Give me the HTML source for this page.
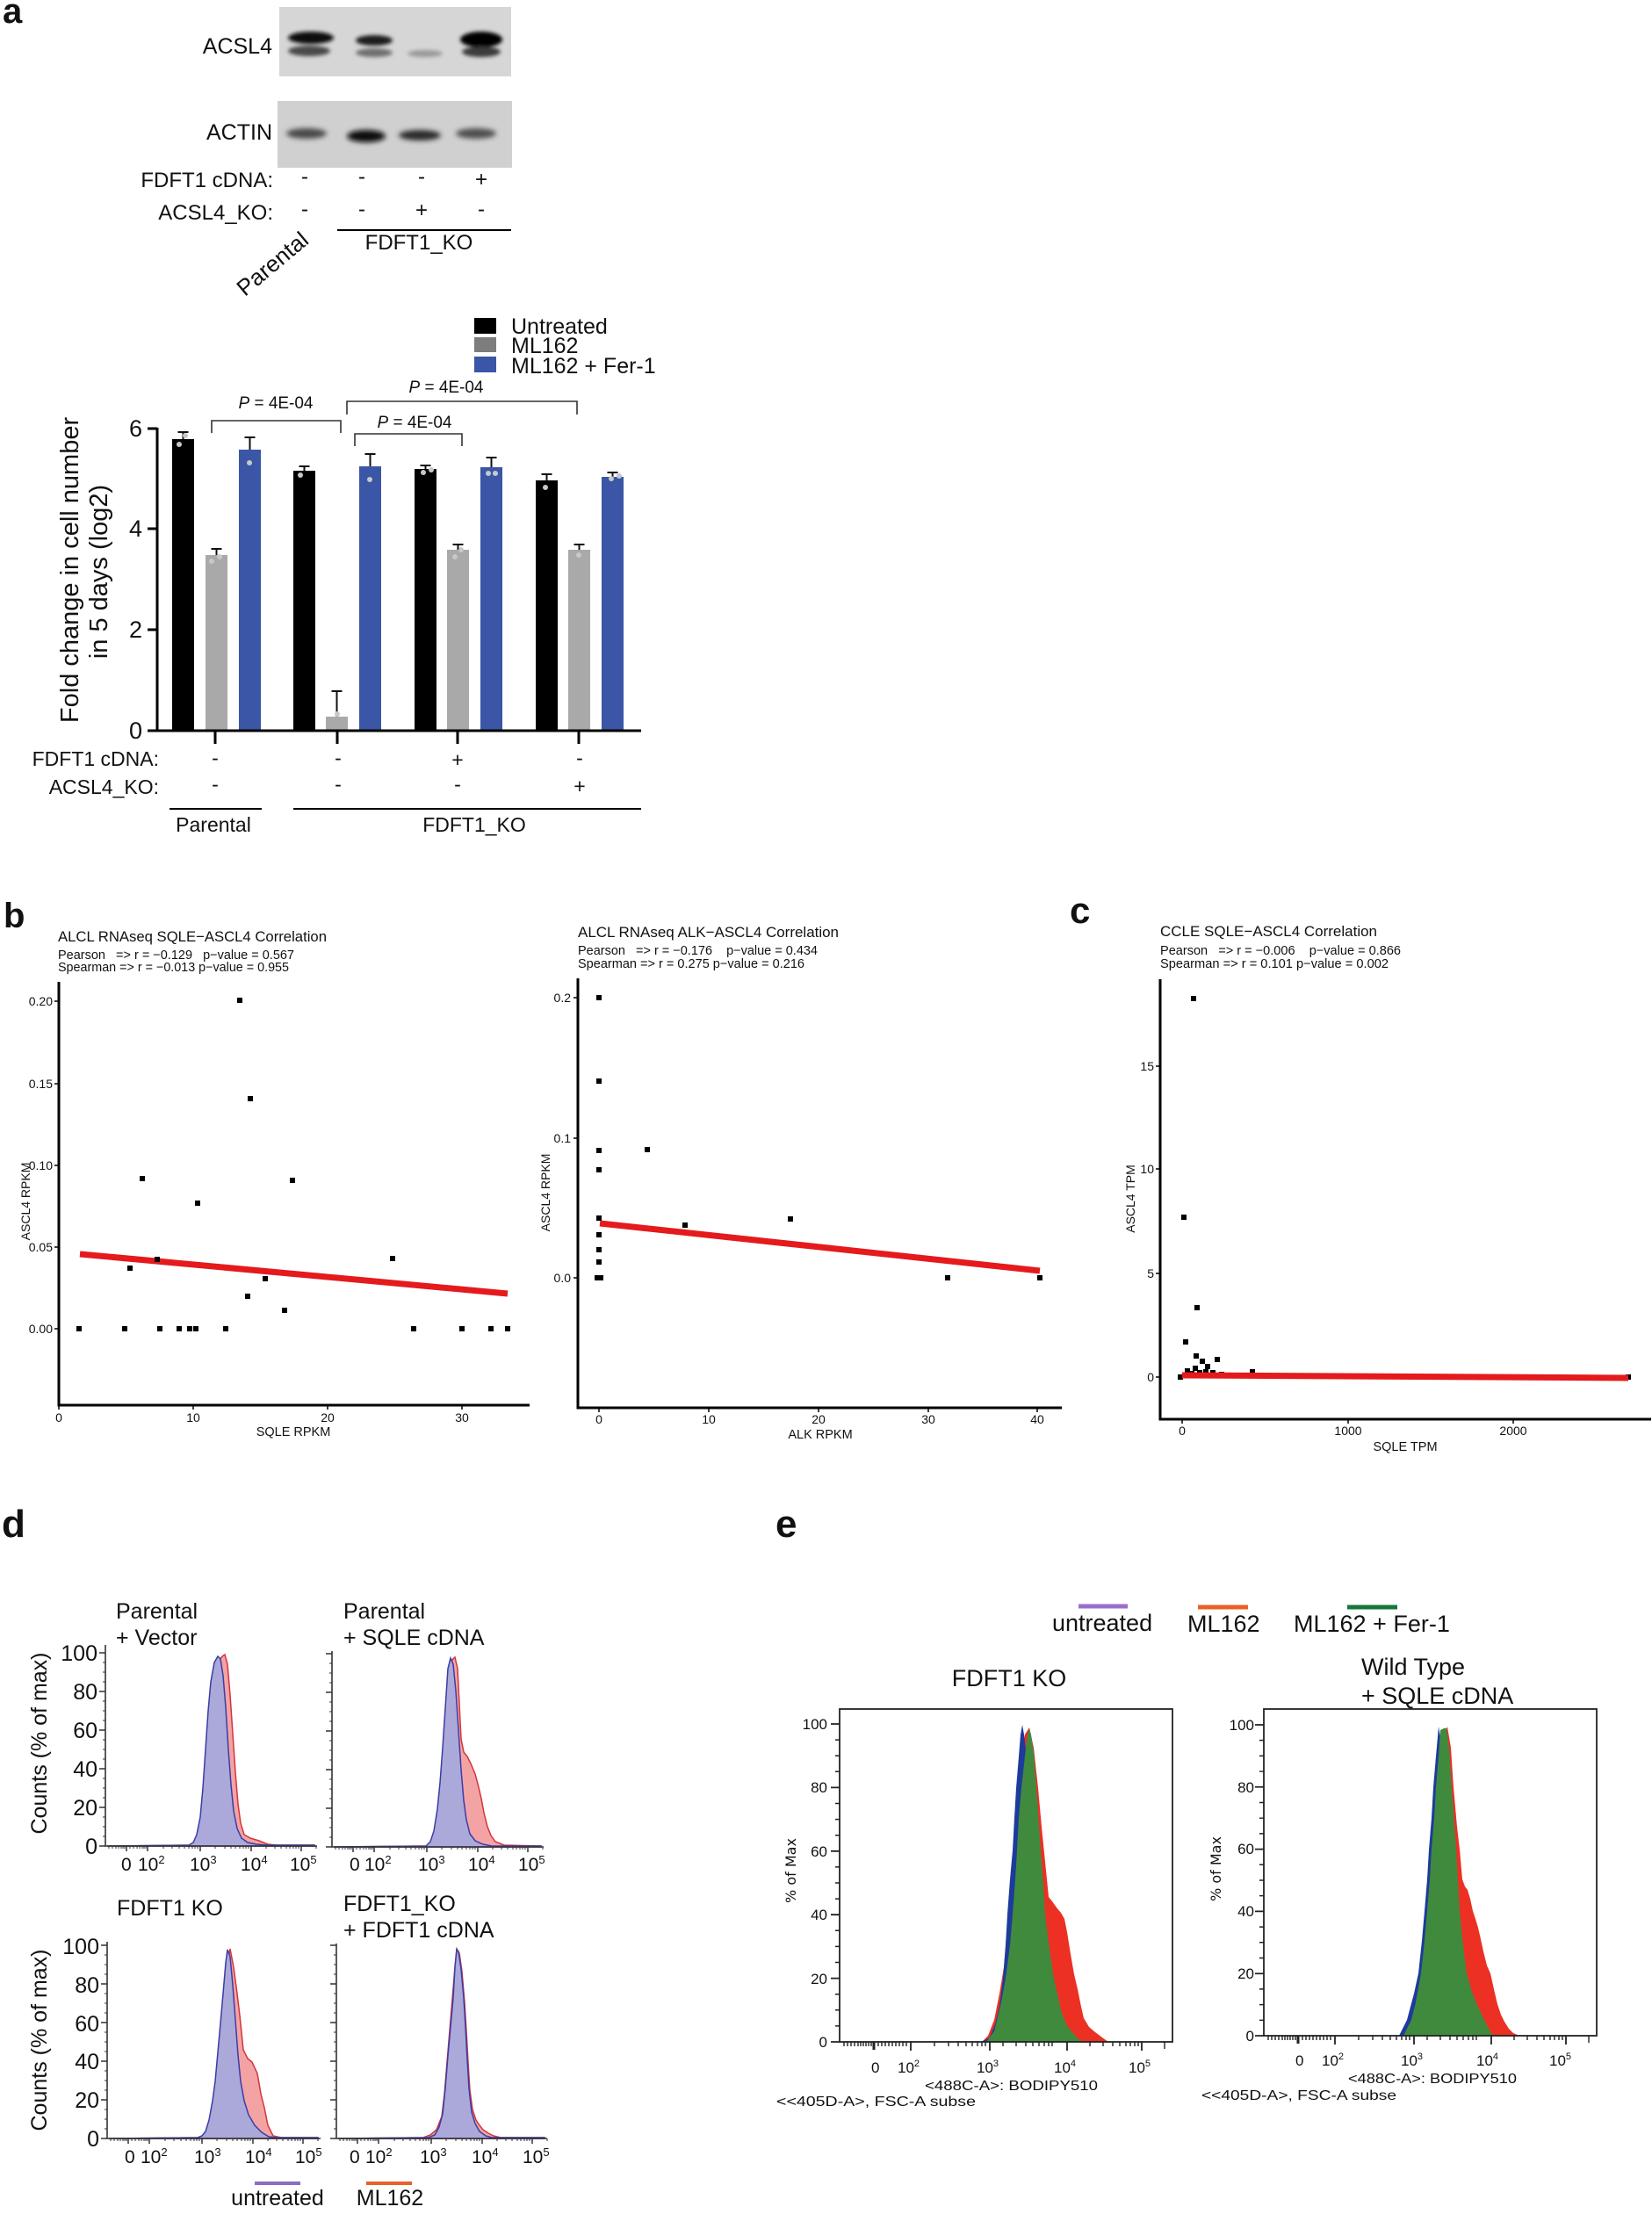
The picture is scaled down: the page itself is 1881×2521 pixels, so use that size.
<!DOCTYPE html>
<html><head><meta charset="utf-8">
<style>
html,body{margin:0;padding:0;background:#fff;}
svg{display:block;}
text{font-family:"Liberation Sans",Arial,sans-serif;fill:#111;}
.fj{font-family:"DejaVu Sans","Liberation Sans",sans-serif;}
.pre{white-space:pre;}
</style></head><body>
<svg width="1881" height="2521" viewBox="0 0 1881 2521" xmlns="http://www.w3.org/2000/svg">
<defs>
<filter id="bl" x="-50%" y="-80%" width="200%" height="260%"><feGaussianBlur stdDeviation="3"/></filter>
<filter id="bl2" x="-50%" y="-80%" width="200%" height="260%"><feGaussianBlur stdDeviation="2"/></filter>
<g id="dyt"><path d="M-7 0H0M-7 -44H0M-7 -88H0M-7 -132H0M-7 -176H0M-7 -220H0" stroke="#333" stroke-width="1.5"/><path d="M-3 -11H0M-3 -22H0M-3 -33H0M-3 -55H0M-3 -66H0M-3 -77H0M-3 -99H0M-3 -110H0M-3 -121H0M-3 -143H0M-3 -154H0M-3 -165H0M-3 -187H0M-3 -198H0M-3 -209H0" stroke="#333" stroke-width="1"/></g>
<g id="dxt"><path d="M24 0v6M48 0v6M108 0v6M166 0v6M223 0v6" stroke="#333" stroke-width="1.5"/><path d="M4 0v3M8 0v3M12 0v3M15 0v3M18 0v3M20 0v3M22 0v3M28 0v3M32 0v3M36 0v3M39 0v3M42 0v3M44 0v3M46 0v3M66 0v3M76 0v3M84 0v3M90 0v3M95 0v3M99 0v3M102 0v3M105 0v3M125 0v3M136 0v3M143 0v3M148 0v3M153 0v3M157 0v3M160 0v3M163 0v3M183 0v3M193 0v3M200 0v3M206 0v3M210 0v3M214 0v3M217 0v3M220 0v3M240 0v3" stroke="#333" stroke-width="1"/></g>
<g id="eyt"><path d="M-10 0H0M-10 -72.4H0M-10 -144.8H0M-10 -217.2H0M-10 -289.6H0M-10 -362H0" stroke="#222" stroke-width="1.8"/><path d="M-5 -18.1H0M-5 -36.2H0M-5 -54.3H0M-5 -90.5H0M-5 -108.6H0M-5 -126.7H0M-5 -162.9H0M-5 -181H0M-5 -199.1H0M-5 -235.3H0M-5 -253.4H0M-5 -271.5H0M-5 -307.7H0M-5 -325.8H0M-5 -343.9H0" stroke="#222" stroke-width="1.5"/></g>
<g id="ext"><path d="M81 0v10M171 0v10M259 0v10M344 0v10" stroke="#222" stroke-width="1.8"/><path d="M39 0v9" stroke="#222" stroke-width="3"/><path d="M5 0v5M9 0v5M13 0v5M17 0v5M21 0v5M24 0v5M27 0v5M30 0v5M33 0v5M36 0v5M44 0v5M48 0v5M52 0v5M56 0v5M60 0v5M64 0v5M68 0v5M72 0v5M76 0v5M108 0v5M124 0v5M135 0v5M144 0v5M151 0v5M157 0v5M162 0v5M166 0v5M186 0v5M201 0v5M212 0v5M220 0v5M227 0v5M233 0v5M238 0v5M242 0v5M285 0v5M300 0v5M311 0v5M319 0v5M326 0v5M331 0v5M336 0v5M340 0v5M370 0v8" stroke="#222" stroke-width="1.4"/></g>
</defs>
<rect width="1881" height="2521" fill="#fff"/>

<!-- ===== Panel a : blots ===== -->
<text x="3" y="26" font-size="40" font-weight="bold">a</text>
<rect x="318" y="8" width="264" height="79" fill="#d6d6d6"/>
<g filter="url(#bl2)">
<ellipse cx="354" cy="43" rx="26" ry="7" fill="#111"/>
<ellipse cx="352" cy="58" rx="24" ry="6" fill="#4a4a4a"/>
<ellipse cx="426" cy="46" rx="21" ry="6" fill="#1a1a1a"/>
<ellipse cx="426" cy="60" rx="21" ry="5" fill="#707070"/>
<ellipse cx="484" cy="61" rx="20" ry="4" fill="#9a9a9a"/>
<ellipse cx="548" cy="45" rx="24" ry="9" fill="#000"/>
<ellipse cx="548" cy="59" rx="22" ry="6" fill="#3a3a3a"/>
</g>
<rect x="316" y="115" width="267" height="76" fill="#d0d0d0"/>
<g filter="url(#bl)">
<ellipse cx="349" cy="152" rx="23" ry="6" fill="#4a4a4a"/>
<ellipse cx="417" cy="155" rx="22" ry="7" fill="#0a0a0a"/>
<ellipse cx="478" cy="154" rx="24" ry="6" fill="#2a2a2a"/>
<ellipse cx="542" cy="152" rx="23" ry="6" fill="#505050"/>
</g>
<text x="310" y="61" text-anchor="end" font-size="25">ACSL4</text>
<text x="310" y="159" text-anchor="end" font-size="25">ACTIN</text>
<text x="311" y="213" text-anchor="end" font-size="24">FDFT1 cDNA:</text>
<text x="311" y="250" text-anchor="end" font-size="24">ACSL4_KO:</text>
<g font-size="24" text-anchor="middle">
<text x="347" y="209">-</text><text x="412" y="209">-</text><text x="480" y="209">-</text><text x="548" y="212">+</text>
<text x="347" y="246">-</text><text x="412" y="246">-</text><text x="480" y="247">+</text><text x="548" y="246">-</text>
</g>
<line x1="384" y1="262" x2="582" y2="262" stroke="#000" stroke-width="2"/>
<text x="477" y="284" text-anchor="middle" font-size="24">FDFT1_KO</text>
<text transform="translate(353,276) rotate(-40)" text-anchor="end" font-size="26">Parental</text>

<!-- ===== Panel a : bar chart ===== -->
<rect x="540" y="362" width="25" height="18" fill="#000"/>
<rect x="540" y="384" width="25" height="17" fill="#7d7d7d"/>
<rect x="540" y="406" width="25" height="18" fill="#3b56a6"/>
<text x="582" y="380" font-size="25">Untreated</text>
<text x="582" y="402" font-size="25">ML162</text>
<text x="582" y="425" font-size="25">ML162 + Fer-1</text>

<g stroke="#333" stroke-width="1.6" fill="none">
<path d="M241 493V479H388V493"/>
<path d="M395 472V457H657V472"/>
<path d="M404 508V494H526V508"/>
</g>
<g font-size="19" text-anchor="middle">
<text x="314" y="465" textLength="85" lengthAdjust="spacingAndGlyphs"><tspan font-style="italic">P</tspan> = 4E-04</text>
<text x="508" y="447" textLength="85" lengthAdjust="spacingAndGlyphs"><tspan font-style="italic">P</tspan> = 4E-04</text>
<text x="472" y="487" textLength="85" lengthAdjust="spacingAndGlyphs"><tspan font-style="italic">P</tspan> = 4E-04</text>
</g>

<!-- bars -->
<g>
<rect x="196" y="500" width="25" height="332" fill="#000"/>
<rect x="234" y="632" width="25" height="200" fill="#a9a9a9"/>
<rect x="272" y="512" width="25" height="320" fill="#3b56a6"/>
<rect x="334" y="536" width="25" height="296" fill="#000"/>
<rect x="371" y="816" width="25" height="16" fill="#a9a9a9"/>
<rect x="409" y="531" width="25" height="301" fill="#3b56a6"/>
<rect x="472" y="534" width="25" height="298" fill="#000"/>
<rect x="509" y="626" width="25" height="206" fill="#a9a9a9"/>
<rect x="547" y="532" width="25" height="300" fill="#3b56a6"/>
<rect x="610" y="547" width="25" height="285" fill="#000"/>
<rect x="647" y="626" width="25" height="206" fill="#a9a9a9"/>
<rect x="685" y="543" width="25" height="289" fill="#3b56a6"/>
</g>
<g stroke="#111" stroke-width="2" fill="none">
<path d="M208.5 500V492M202.5 492H214.5"/>
<path d="M246.5 632V625M240.5 625H252.5"/>
<path d="M284.5 512V498M278.5 498H290.5"/>
<path d="M346.5 536V531M340.5 531H352.5"/>
<path d="M383.5 816V787M377.5 787H389.5"/>
<path d="M421.5 531V517M415.5 517H427.5"/>
<path d="M484.5 534V530M478.5 530H490.5"/>
<path d="M521.5 626V620M515.5 620H527.5"/>
<path d="M559.5 532V521M553.5 521H565.5"/>
<path d="M622.5 547V540M616.5 540H628.5"/>
<path d="M659.5 626V620M653.5 620H665.5"/>
<path d="M697.5 543V538M691.5 538H703.5"/>
</g>
<g fill="#c8c8c8">
<circle cx="204" cy="506" r="3"/><circle cx="211" cy="496" r="3"/>
<circle cx="241" cy="639" r="3"/><circle cx="250" cy="634" r="3"/>
<circle cx="284" cy="527" r="3"/>
<circle cx="342" cy="541" r="3"/>
<circle cx="384" cy="813" r="3"/>
<circle cx="421" cy="546" r="3"/>
<circle cx="482" cy="538" r="3"/><circle cx="491" cy="535" r="3"/>
<circle cx="518" cy="634" r="3"/><circle cx="525" cy="626" r="3"/>
<circle cx="556" cy="539" r="3"/><circle cx="564" cy="539" r="3"/>
<circle cx="621" cy="555" r="3"/>
<circle cx="659" cy="632" r="3"/>
<circle cx="696" cy="545" r="3"/><circle cx="705" cy="542" r="3"/>
</g>
<path d="M179 487V832H730" stroke="#000" stroke-width="3" fill="none"/>
<path d="M168 488H179M168 602H179M168 717H179M168 832H179" stroke="#000" stroke-width="3"/>
<path d="M245 832V847M384 832V847M521 832V847M659 832V847" stroke="#000" stroke-width="3"/>
<g font-size="27" text-anchor="end">
<text x="162" y="497">6</text><text x="162" y="611">4</text><text x="162" y="726">2</text><text x="162" y="841">0</text>
</g>
<text transform="translate(89,649) rotate(-90)" text-anchor="middle" font-size="29">Fold change in cell number</text>
<text transform="translate(122,651) rotate(-90)" text-anchor="middle" font-size="29">in 5 days (log2)</text>
<text x="181" y="872" text-anchor="end" font-size="23">FDFT1 cDNA:</text>
<text x="181" y="904" text-anchor="end" font-size="23">ACSL4_KO:</text>
<g font-size="23" text-anchor="middle">
<text x="245" y="871">-</text><text x="385" y="871">-</text><text x="521" y="873">+</text><text x="660" y="871">-</text>
<text x="245" y="901">-</text><text x="385" y="901">-</text><text x="521" y="901">-</text><text x="660" y="903">+</text>
</g>
<path d="M193 921H298M334 921H730" stroke="#000" stroke-width="2"/>
<text x="243" y="947" text-anchor="middle" font-size="23">Parental</text>
<text x="540" y="947" text-anchor="middle" font-size="23">FDFT1_KO</text>

<!-- ===== Panel b left ===== -->
<text x="4" y="1056" font-size="40" font-weight="bold">b</text>
<text x="66" y="1072" font-size="17" textLength="306" lengthAdjust="spacingAndGlyphs">ALCL RNAseq SQLE−ASCL4 Correlation</text>
<text x="66" y="1092" font-size="14.5" class="pre" xml:space="preserve" textLength="269" lengthAdjust="spacingAndGlyphs">Pearson   =&gt; r = −0.129   p−value = 0.567</text>
<text x="66" y="1106" font-size="14.5" class="pre" xml:space="preserve" textLength="263" lengthAdjust="spacingAndGlyphs">Spearman =&gt; r = −0.013 p−value = 0.955</text>
<line x1="91" y1="1428" x2="578" y2="1473" stroke="#e41a1c" stroke-width="7"/>
<g fill="#000">
<rect x="87" y="1510" width="6" height="6"/><rect x="139" y="1510" width="6" height="6"/><rect x="179" y="1510" width="6" height="6"/><rect x="201" y="1510" width="6" height="6"/><rect x="213" y="1510" width="6" height="6"/><rect x="220" y="1510" width="6" height="6"/><rect x="254" y="1510" width="6" height="6"/><rect x="468" y="1510" width="6" height="6"/><rect x="523" y="1510" width="6" height="6"/><rect x="556" y="1510" width="6" height="6"/><rect x="575" y="1510" width="6" height="6"/>
<rect x="270" y="1136" width="6" height="6"/><rect x="282" y="1248" width="6" height="6"/><rect x="159" y="1339" width="6" height="6"/><rect x="330" y="1341" width="6" height="6"/><rect x="222" y="1367" width="6" height="6"/><rect x="176" y="1431" width="6" height="6"/><rect x="145" y="1441" width="6" height="6"/><rect x="444" y="1430" width="6" height="6"/><rect x="299" y="1453" width="6" height="6"/><rect x="279" y="1473" width="6" height="6"/><rect x="321" y="1489" width="6" height="6"/>
</g>
<path d="M67 1118V1600H603" stroke="#000" stroke-width="3" fill="none"/>
<path d="M62 1140H67M62 1234H67M62 1327H67M62 1420H67M62 1513H67M67 1600v5M220 1600v5M373 1600v5M526 1600v5" stroke="#000" stroke-width="1.5"/>
<g font-size="14" text-anchor="end">
<text x="60" y="1145">0.20</text><text x="60" y="1239">0.15</text><text x="60" y="1332">0.10</text><text x="60" y="1425">0.05</text><text x="60" y="1518">0.00</text>
</g>
<g font-size="14" text-anchor="middle">
<text x="67" y="1619">0</text><text x="220" y="1619">10</text><text x="373" y="1619">20</text><text x="526" y="1619">30</text>
</g>
<text x="334" y="1635" text-anchor="middle" font-size="14.5">SQLE RPKM</text>
<text transform="translate(34,1368) rotate(-90)" text-anchor="middle" font-size="14">ASCL4 RPKM</text>

<!-- ===== Panel b right ===== -->
<text x="658" y="1067" font-size="17" textLength="297" lengthAdjust="spacingAndGlyphs">ALCL RNAseq ALK−ASCL4 Correlation</text>
<text x="658" y="1087" font-size="14.5" class="pre" xml:space="preserve" textLength="273" lengthAdjust="spacingAndGlyphs">Pearson   =&gt; r = −0.176    p−value = 0.434</text>
<text x="658" y="1102" font-size="14.5" class="pre" xml:space="preserve" textLength="258" lengthAdjust="spacingAndGlyphs">Spearman =&gt; r = 0.275 p−value = 0.216</text>
<line x1="683" y1="1393" x2="1184" y2="1447" stroke="#e41a1c" stroke-width="7"/>
<g fill="#000">
<rect x="679" y="1133" width="6" height="6"/><rect x="679" y="1228" width="6" height="6"/><rect x="679" y="1307" width="6" height="6"/><rect x="679" y="1329" width="6" height="6"/><rect x="679" y="1384" width="6" height="6"/><rect x="679" y="1403" width="6" height="6"/><rect x="679" y="1420" width="6" height="6"/><rect x="679" y="1434" width="6" height="6"/><rect x="677" y="1452" width="6" height="6"/><rect x="681" y="1452" width="6" height="6"/>
<rect x="734" y="1306" width="6" height="6"/><rect x="777" y="1392" width="6" height="6"/><rect x="897" y="1385" width="6" height="6"/><rect x="1076" y="1452" width="6" height="6"/><rect x="1181" y="1452" width="6" height="6"/>
</g>
<path d="M658 1114V1603H1209" stroke="#000" stroke-width="3" fill="none"/>
<path d="M653 1136H658M653 1296H658M653 1455H658M682 1603v5M807 1603v5M932 1603v5M1057 1603v5M1181 1603v5" stroke="#000" stroke-width="1.5"/>
<g font-size="14" text-anchor="end">
<text x="650" y="1141">0.2</text><text x="650" y="1301">0.1</text><text x="650" y="1460">0.0</text>
</g>
<g font-size="14" text-anchor="middle">
<text x="682" y="1621">0</text><text x="807" y="1621">10</text><text x="932" y="1621">20</text><text x="1057" y="1621">30</text><text x="1181" y="1621">40</text>
</g>
<text x="934" y="1638" text-anchor="middle" font-size="14.5">ALK RPKM</text>
<text transform="translate(626,1358) rotate(-90)" text-anchor="middle" font-size="14">ASCL4 RPKM</text>

<!-- ===== Panel c ===== -->
<text x="1218" y="1051" font-size="42" font-weight="bold">c</text>
<text x="1321" y="1066" font-size="17" textLength="247" lengthAdjust="spacingAndGlyphs">CCLE SQLE−ASCL4 Correlation</text>
<text x="1321" y="1087" font-size="14.5" class="pre" xml:space="preserve" textLength="274" lengthAdjust="spacingAndGlyphs">Pearson   =&gt; r = −0.006    p−value = 0.866</text>
<text x="1321" y="1102" font-size="14.5" class="pre" xml:space="preserve" textLength="260" lengthAdjust="spacingAndGlyphs">Spearman =&gt; r = 0.101 p−value = 0.002</text>
<g fill="#000">
<rect x="1356" y="1134" width="6" height="6"/><rect x="1345" y="1383" width="6" height="6"/><rect x="1360" y="1486" width="6" height="6"/><rect x="1347" y="1525" width="6" height="6"/><rect x="1359" y="1541" width="6" height="6"/><rect x="1366" y="1547" width="6" height="6"/><rect x="1372" y="1553" width="6" height="6"/><rect x="1383" y="1545" width="6" height="6"/><rect x="1358" y="1555" width="6" height="6"/><rect x="1349" y="1558" width="6" height="6"/><rect x="1354" y="1561" width="6" height="6"/><rect x="1363" y="1560" width="6" height="6"/><rect x="1370" y="1559" width="6" height="6"/><rect x="1378" y="1560" width="6" height="6"/><rect x="1388" y="1562" width="6" height="6"/><rect x="1423" y="1559" width="6" height="6"/><rect x="1341" y="1565" width="6" height="6"/><rect x="1851" y="1565" width="6" height="6"/>
</g>
<line x1="1346" y1="1566" x2="1854" y2="1569" stroke="#e41a1c" stroke-width="7"/>
<path d="M1321 1115V1616H1880" stroke="#000" stroke-width="3" fill="none"/>
<path d="M1316 1214H1321M1316 1331H1321M1316 1450H1321M1316 1568H1321M1346 1616v5M1535 1616v5M1723 1616v5" stroke="#000" stroke-width="1.5"/>
<g font-size="14" text-anchor="end">
<text x="1314" y="1219">15</text><text x="1314" y="1336">10</text><text x="1314" y="1455">5</text><text x="1314" y="1573">0</text>
</g>
<g font-size="14" text-anchor="middle">
<text x="1346" y="1634">0</text><text x="1535" y="1634">1000</text><text x="1723" y="1634">2000</text>
</g>
<text x="1600" y="1652" text-anchor="middle" font-size="14.5">SQLE TPM</text>
<text transform="translate(1292,1365) rotate(-90)" text-anchor="middle" font-size="14">ASCL4 TPM</text>

<!-- ===== Panel d ===== -->
<text x="2" y="1750" font-size="44" font-weight="bold">d</text>
<g font-size="25">
<text x="132" y="1843">Parental</text><text x="132" y="1873">+ Vector</text>
<text x="391" y="1843">Parental</text><text x="391" y="1873">+ SQLE cDNA</text>
<text x="133" y="2181">FDFT1 KO</text>
<text x="391" y="2176">FDFT1_KO</text><text x="391" y="2206">+ FDFT1 cDNA</text>
</g>
<!-- histograms -->
<polygon points="122,2102 220,2101 226,2095 230,2080 234,2040 237,1992 240,1948 244,1908 248,1893 253,1886 256,1884 259,1895 262,1930 265,1974 268,2018 271,2054 274,2076 278,2089 285,2093 295,2096 305,2100 315,2101 358,2101 358,2102" fill="#f4a3a5" stroke="#d5343a" stroke-width="1.5"/>
<polygon points="122,2102 215,2101 220,2098 224,2089 228,2069 231,2036 234,1992 237,1948 240,1915 244,1893 248,1886 251,1889 254,1908 257,1944 260,1992 263,2032 266,2062 270,2082 275,2093 282,2098 292,2100 305,2101 358,2101 358,2102" fill="#aba9d9" stroke="#3a3da6" stroke-width="1.5"/>
<polygon points="380,2103 487,2102 492,2096 496,2082 500,2055 503,2025 506,1988 509,1945 512,1910 515,1890 518,1887 521,1900 523,1940 525,1980 528,1995 532,2000 536,2008 541,2020 545,2035 548,2048 551,2064 555,2080 559,2090 564,2097 574,2101 616,2102 616,2103" fill="#f4a3a5" stroke="#d5343a" stroke-width="1.5"/>
<polygon points="380,2103 485,2102 490,2097 494,2085 498,2060 501,2030 504,1990 507,1945 510,1900 513,1888 516,1895 519,1925 522,1970 525,2015 528,2050 531,2072 535,2088 541,2096 550,2100 560,2102 616,2102 616,2103" fill="#aba9d9" stroke="#3a3da6" stroke-width="1.5"/>
<polygon points="124,2435 230,2434 236,2432 241,2420 244,2397 247,2370 250,2341 253,2305 255,2275 258,2240 262,2219 266,2240 270,2270 273,2295 277,2334 282,2344 287,2348 293,2361 297,2384 301,2400 305,2420 311,2432 320,2434 362,2434 362,2435" fill="#f4a3a5" stroke="#d5343a" stroke-width="1.5"/>
<polygon points="124,2435 225,2434 230,2432 234,2427 238,2414 242,2392 245,2370 247,2348 249,2326 251,2304 254,2270 257,2235 259,2220 262,2228 265,2260 268,2300 271,2340 274,2370 278,2392 283,2408 290,2420 298,2428 306,2433 315,2434 362,2434 362,2435" fill="#aba9d9" stroke="#3a3da6" stroke-width="1.5"/>
<polygon points="385,2435 482,2434 490,2431 497,2425 503,2410 506,2385 509,2348 512,2312 515,2276 518,2240 520,2219 523,2224 526,2245 529,2280 531,2312 533,2348 535,2380 538,2402 542,2414 546,2420 550,2425 556,2429 562,2432 570,2434 620,2434 620,2435" fill="#f4a3a5" stroke="#d5343a" stroke-width="1.5"/>
<polygon points="385,2435 488,2434 495,2431 500,2422 504,2407 507,2378 510,2341 513,2308 516,2275 518,2240 520,2220 522,2222 525,2242 528,2275 530,2308 532,2345 534,2378 537,2405 541,2418 546,2427 553,2432 560,2434 620,2434 620,2435" fill="#aba9d9" stroke="#3a3da6" stroke-width="1.5"/>
<!-- axes -->
<g stroke="#333" stroke-width="1.6" fill="none">
<path d="M120 1873V2102H361"/>
<path d="M378 1880V2103H619"/>
<path d="M122 2211V2435H365"/>
<path d="M383 2213V2435H623"/>
</g>
<use href="#dyt" x="120" y="2102"/>
<use href="#dyt" x="378" y="2103"/>
<use href="#dyt" x="122" y="2435"/>
<use href="#dyt" x="383" y="2435"/>
<use href="#dxt" x="120" y="2102"/>
<use href="#dxt" x="378" y="2103"/>
<use href="#dxt" x="122" y="2435"/>
<use href="#dxt" x="383" y="2435"/>
<g font-size="25" text-anchor="end">
<text x="111" y="1891">100</text><text x="111" y="1935">80</text><text x="111" y="1979">60</text><text x="111" y="2023">40</text><text x="111" y="2067">20</text><text x="111" y="2111">0</text>
<text x="113" y="2225">100</text><text x="113" y="2269">80</text><text x="113" y="2313">60</text><text x="113" y="2356">40</text><text x="113" y="2400">20</text><text x="113" y="2444">0</text>
</g>
<g font-size="21">
<text x="138" y="2130">0</text><text x="157" y="2130">10<tspan dy="-8" font-size="13">2</tspan></text><text x="216" y="2130">10<tspan dy="-8" font-size="13">3</tspan></text><text x="274" y="2130">10<tspan dy="-8" font-size="13">4</tspan></text><text x="330" y="2130">10<tspan dy="-8" font-size="13">5</tspan></text>
<text x="398" y="2130">0</text><text x="415" y="2130">10<tspan dy="-8" font-size="13">2</tspan></text><text x="476" y="2130">10<tspan dy="-8" font-size="13">3</tspan></text><text x="533" y="2130">10<tspan dy="-8" font-size="13">4</tspan></text><text x="590" y="2130">10<tspan dy="-8" font-size="13">5</tspan></text>
<text x="142" y="2463">0</text><text x="160" y="2463">10<tspan dy="-8" font-size="13">2</tspan></text><text x="221" y="2463">10<tspan dy="-8" font-size="13">3</tspan></text><text x="279" y="2463">10<tspan dy="-8" font-size="13">4</tspan></text><text x="336" y="2463">10<tspan dy="-8" font-size="13">5</tspan></text>
<text x="398" y="2463">0</text><text x="416" y="2463">10<tspan dy="-8" font-size="13">2</tspan></text><text x="478" y="2463">10<tspan dy="-8" font-size="13">3</tspan></text><text x="537" y="2463">10<tspan dy="-8" font-size="13">4</tspan></text><text x="595" y="2463">10<tspan dy="-8" font-size="13">5</tspan></text>
</g>
<text transform="translate(53,1985) rotate(-90)" text-anchor="middle" font-size="25">Counts (% of max)</text>
<text transform="translate(53,2323) rotate(-90)" text-anchor="middle" font-size="25">Counts (% of max)</text>
<line x1="290" y1="2486" x2="342" y2="2486" stroke="#8d6cc0" stroke-width="4"/>
<line x1="417" y1="2486" x2="469" y2="2486" stroke="#e8602c" stroke-width="4"/>
<text x="316" y="2511" text-anchor="middle" font-size="25">untreated</text>
<text x="444" y="2511" text-anchor="middle" font-size="25">ML162</text>

<!-- ===== Panel e ===== -->
<text x="883" y="1750" font-size="44" font-weight="bold">e</text>
<line x1="1228" y1="1829" x2="1284" y2="1829" stroke="#9a6fcb" stroke-width="5"/>
<line x1="1364" y1="1830" x2="1421" y2="1830" stroke="#eb5f2a" stroke-width="5"/>
<line x1="1534" y1="1830" x2="1591" y2="1830" stroke="#14773a" stroke-width="5"/>
<text x="1198" y="1857" font-size="27">untreated</text>
<text x="1352" y="1858" font-size="27">ML162</text>
<text x="1473" y="1858" font-size="27">ML162 + Fer-1</text>
<text x="1149" y="1920" text-anchor="middle" font-size="27">FDFT1 KO</text>
<text x="1550" y="1907" font-size="27">Wild Type</text>
<text x="1550" y="1940" font-size="27">+ SQLE cDNA</text>

<!-- e left histograms -->
<polygon points="1118,2325 1125,2318 1132,2300 1138,2270 1143,2240 1147,2190 1151,2140 1155,2090 1159,2040 1163,2000 1167,1975 1172,1967 1177,1990 1182,2036 1186,2080 1189,2110 1192,2140 1194,2160 1198,2165 1203,2172 1208,2178 1212,2185 1215,2200 1219,2225 1223,2248 1227,2265 1231,2285 1234,2298 1240,2308 1247,2314 1255,2320 1262,2325" fill="#ec3024"/>
<polygon points="1117,2325 1127,2320 1133,2305 1138,2285 1142,2253 1145,2215 1147,2180 1150,2140 1153,2107 1155,2070 1157,2036 1160,2000 1162,1975 1164,1964 1166,1975 1170,2010 1174,2060 1178,2120 1184,2200 1192,2270 1202,2315 1212,2325" fill="#1d3b9c"/>
<polygon points="1123,2325 1132,2313 1140,2280 1145,2253 1150,2215 1153,2180 1156,2140 1158,2107 1160,2070 1163,2036 1167,2000 1170,1975 1172,1968 1174,1975 1177,1995 1180,2036 1185,2107 1188,2145 1190,2180 1195,2220 1200,2253 1205,2275 1208,2289 1214,2305 1220,2313 1226,2320 1232,2325" fill="#408a3e"/>
<!-- e right histograms -->
<polygon points="1600,2318 1609,2300 1614,2280 1620,2247 1624,2210 1627,2176 1630,2140 1632,2106 1635,2070 1638,2035 1641,2000 1644,1975 1648,1966 1652,1990 1655,2035 1659,2080 1662,2106 1665,2140 1668,2148 1671,2152 1674,2162 1677,2176 1680,2185 1683,2195 1686,2208 1689,2222 1693,2238 1697,2247 1701,2265 1705,2282 1709,2294 1713,2302 1718,2310 1723,2315 1730,2318" fill="#ec3024"/>
<polygon points="1593,2318 1602,2300 1610,2270 1615,2247 1619,2210 1622,2176 1625,2140 1627,2106 1630,2070 1632,2035 1635,2000 1638,1966 1641,1985 1646,2040 1652,2120 1660,2220 1670,2295 1680,2318" fill="#1d3b9c"/>
<polygon points="1598,2318 1607,2300 1612,2280 1618,2247 1622,2210 1625,2176 1628,2140 1630,2106 1633,2070 1635,2035 1638,2000 1640,1970 1644,1968 1647,1968 1650,1990 1653,2035 1658,2106 1662,2176 1666,2215 1670,2247 1676,2268 1682,2283 1690,2300 1695,2310 1700,2318" fill="#408a3e"/>
<!-- e boxes -->
<rect x="956" y="1946" width="379" height="379" fill="none" stroke="#222" stroke-width="1.8"/>
<rect x="1439" y="1946" width="379" height="372" fill="none" stroke="#222" stroke-width="1.8"/>
<use href="#eyt" x="956" y="2325"/>
<use href="#eyt" transform="translate(1439,2318) scale(1,0.978)"/>
<use href="#ext" x="956" y="2325"/>
<use href="#ext" x="1439" y="2318"/>
<g class="fj" font-size="17" text-anchor="end">
<text x="942" y="1969">100</text><text x="942" y="2041">80</text><text x="942" y="2114">60</text><text x="942" y="2186">40</text><text x="942" y="2259">20</text><text x="942" y="2331">0</text>
<text x="1428" y="1970">100</text><text x="1428" y="2041">80</text><text x="1428" y="2111">60</text><text x="1428" y="2182">40</text><text x="1428" y="2253">20</text><text x="1428" y="2324">0</text>
</g>
<g class="fj" font-size="17">
<text x="992" y="2360">0</text><text x="1022" y="2360">10<tspan dy="-7" font-size="11">2</tspan></text><text x="1112" y="2360">10<tspan dy="-7" font-size="11">3</tspan></text><text x="1200" y="2360">10<tspan dy="-7" font-size="11">4</tspan></text><text x="1285" y="2360">10<tspan dy="-7" font-size="11">5</tspan></text>
<text x="1475" y="2352">0</text><text x="1505" y="2352">10<tspan dy="-7" font-size="11">2</tspan></text><text x="1595" y="2352">10<tspan dy="-7" font-size="11">3</tspan></text><text x="1681" y="2352">10<tspan dy="-7" font-size="11">4</tspan></text><text x="1764" y="2352">10<tspan dy="-7" font-size="11">5</tspan></text>
</g>
<g class="fj" font-size="16">
<text x="1053" y="2380" textLength="197" lengthAdjust="spacingAndGlyphs">&lt;488C-A&gt;: BODIPY510</text>
<text x="884" y="2398" textLength="227" lengthAdjust="spacingAndGlyphs">&lt;&lt;405D-A&gt;, FSC-A subse</text>
<text x="1535" y="2372" textLength="192" lengthAdjust="spacingAndGlyphs">&lt;488C-A&gt;: BODIPY510</text>
<text x="1368" y="2391" textLength="222" lengthAdjust="spacingAndGlyphs">&lt;&lt;405D-A&gt;, FSC-A subse</text>
</g>
<text class="fj" transform="translate(906,2130) rotate(-90)" text-anchor="middle" font-size="16">% of Max</text>
<text class="fj" transform="translate(1390,2128) rotate(-90)" text-anchor="middle" font-size="16">% of Max</text>
</svg>
</body></html>
